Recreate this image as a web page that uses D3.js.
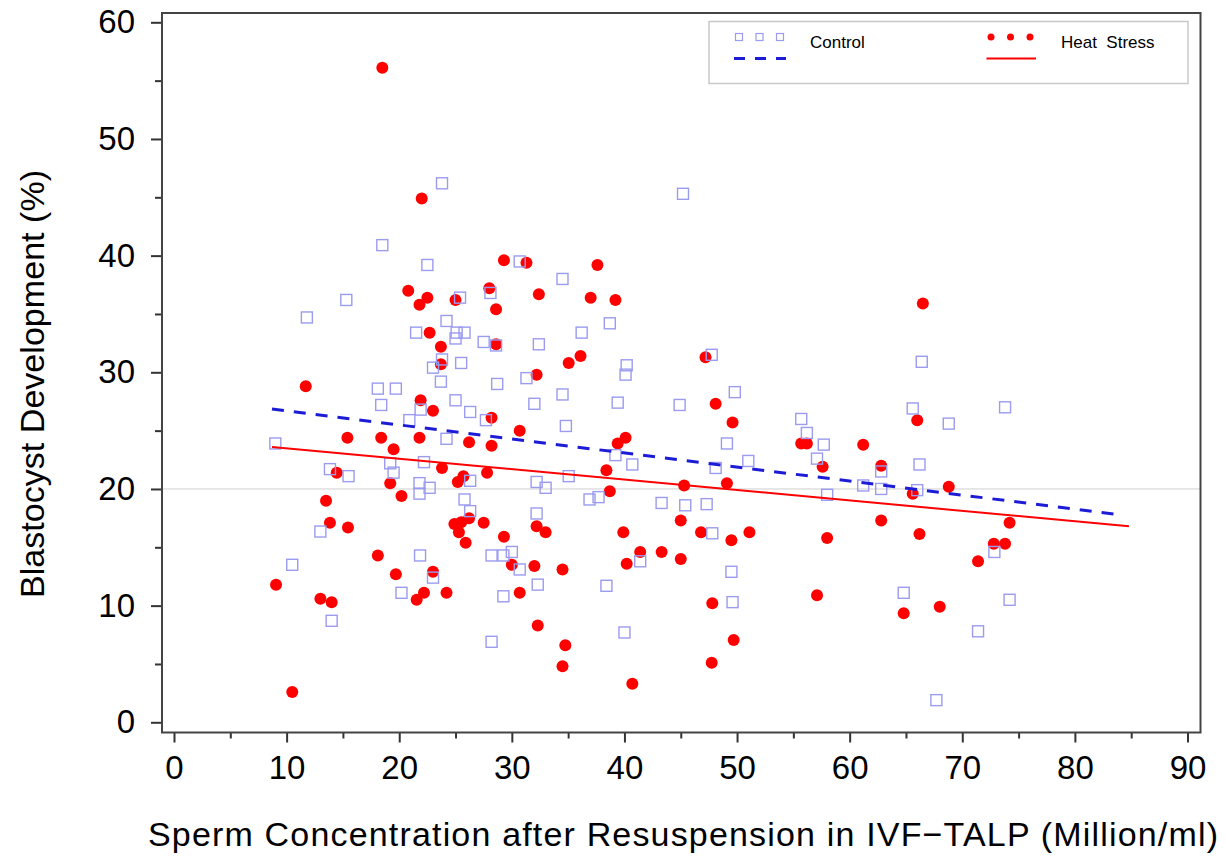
<!DOCTYPE html>
<html>
<head>
<meta charset="utf-8">
<script src="https://cdn.jsdelivr.net/npm/d3@7"></script>
<style>
  body { margin: 0; background: #fff; }
  svg text { font-family: "Liberation Sans", Arial, sans-serif; fill: #000; }
</style>
</head>
<body>
<div id="chart-area"><svg></svg></div>
<script>
const chartSize = { width: 1226, height: 859 };
const frame = { left: 162, right: 1200.5, top: 13, bottom: 732.5 };

const xMajorTicks = [0, 10, 20, 30, 40, 50, 60, 70, 80, 90];
const xMinorTicks = [5, 15, 25, 35, 45, 55, 65, 75, 85];
const yMajorTicks = [0, 10, 20, 30, 40, 50, 60];
const yMinorTicks = [5, 15, 25, 35, 45, 55];

const seriesNames = ["Control", "Heat  Stress"];

// [sperm concentration, blastocyst %]
const controlPoints = [
  [18.5, 40.9], [23.8, 46.2], [45.2, 45.3], [30.7, 39.5], [15.3, 36.2],
  [11.8, 34.7], [21.5, 33.4], [18.1, 28.6], [19.7, 28.6], [18.4, 27.2],
  [20.9, 25.9], [21.9, 26.8], [9.0, 23.9], [19.2, 22.2], [13.85, 21.7],
  [15.5, 21.1], [19.5, 21.4], [21.8, 20.5], [22.5, 39.2], [34.5, 38.0],
  [25.4, 36.4], [28.1, 36.8], [24.2, 34.4], [38.7, 34.2], [25.1, 33.4],
  [25.8, 33.4], [25.0, 32.9], [27.5, 32.6], [28.6, 32.3], [32.4, 32.4],
  [36.2, 33.4], [23.8, 31.1], [23.0, 30.4], [25.5, 30.8], [40.2, 30.6],
  [40.1, 29.8], [31.3, 29.5], [23.7, 29.2], [28.7, 29.0], [34.5, 28.1],
  [39.4, 27.4], [25.0, 27.6], [26.3, 26.6], [32.0, 27.3], [44.9, 27.2],
  [27.7, 25.9], [34.8, 25.4], [24.2, 24.3], [39.2, 22.9], [40.7, 22.1],
  [22.2, 22.3], [26.3, 20.7], [22.7, 20.1], [21.8, 19.6], [32.2, 20.6],
  [33.0, 20.1], [35.05, 21.1], [36.9, 19.1], [37.7, 19.3], [25.8, 19.1],
  [43.3, 18.8], [47.75, 31.5], [66.4, 30.9], [49.8, 28.3], [65.6, 26.9],
  [55.7, 26.0], [56.2, 24.8], [57.7, 23.8], [49.1, 23.9], [51.0, 22.4],
  [48.1, 21.8], [57.1, 22.6], [62.8, 21.5], [66.2, 22.1], [61.2, 20.3],
  [62.8, 20.0], [66.0, 19.9], [58.0, 19.5], [45.4, 18.6], [47.3, 18.7],
  [73.8, 27.0], [68.8, 25.6], [13.0, 16.35], [10.5, 13.5], [14.0, 8.7],
  [20.2, 11.1], [21.85, 14.3], [26.3, 18.1], [32.2, 17.9], [41.4, 13.8],
  [28.2, 14.3], [29.25, 14.3], [30.0, 14.6], [30.7, 13.1], [23.0, 12.4],
  [29.25, 10.8], [32.3, 11.8], [38.4, 11.7], [28.2, 6.9], [40.0, 7.7],
  [47.8, 16.2], [49.5, 12.9], [49.6, 10.3], [64.8, 11.1], [67.7, 1.9],
  [72.85, 14.6], [74.2, 10.5], [71.4, 7.8]
];

const heatPoints = [
  [18.5, 56.1], [22.0, 44.9], [20.8, 37.0], [21.8, 35.8], [11.7, 28.8],
  [21.9, 27.6], [15.4, 24.4], [18.4, 24.4], [19.5, 23.4], [21.8, 24.4],
  [14.45, 21.4], [19.2, 20.5], [13.5, 19.0], [20.2, 19.4], [29.3, 39.6],
  [31.3, 39.4], [37.6, 39.2], [22.5, 36.4], [25.0, 36.2], [28.0, 37.2],
  [28.6, 35.4], [32.4, 36.7], [37.0, 36.4], [39.2, 36.2], [22.7, 33.4],
  [28.6, 32.4], [23.7, 32.2], [36.1, 31.4], [35.05, 30.8], [23.7, 30.7],
  [32.2, 29.8], [23.0, 26.7], [28.2, 26.1], [30.7, 25.0], [26.2, 24.0],
  [28.2, 23.7], [40.1, 24.4], [39.4, 23.9], [23.8, 21.8], [25.7, 21.1],
  [25.2, 20.6], [27.8, 21.4], [38.4, 21.6], [38.7, 19.8], [66.5, 35.9],
  [47.2, 31.3], [48.1, 27.3], [66.0, 25.9], [49.6, 25.7], [55.7, 23.9],
  [56.2, 23.9], [61.2, 23.8], [57.6, 21.9], [62.8, 22.0], [45.3, 20.3],
  [49.1, 20.5], [65.6, 19.6], [68.8, 20.2], [13.85, 17.1], [15.45, 16.7],
  [9.06, 11.8], [13.0, 10.6], [14.0, 10.3], [10.5, 2.6], [18.1, 14.3],
  [19.7, 12.7], [21.55, 10.5], [26.2, 17.5], [24.9, 17.0], [25.5, 17.15],
  [25.3, 16.3], [25.9, 15.4], [27.5, 17.1], [32.2, 16.8], [33.0, 16.3],
  [29.3, 15.9], [45.0, 17.3], [39.9, 16.3], [41.4, 14.6], [43.3, 14.6],
  [40.2, 13.6], [45.0, 14.0], [30.0, 13.5], [32.0, 13.4], [34.5, 13.1],
  [23.0, 12.9], [22.2, 11.1], [24.2, 11.1], [30.7, 11.1], [32.3, 8.3],
  [34.75, 6.6], [34.5, 4.8], [40.7, 3.3], [46.8, 16.3], [49.5, 15.6],
  [51.1, 16.3], [58.0, 15.8], [62.8, 17.3], [66.2, 16.15], [47.8, 10.2],
  [57.1, 10.9], [64.8, 9.35], [68.0, 9.9], [49.7, 7.06], [47.75, 5.1],
  [74.2, 17.1], [72.8, 15.3], [73.8, 15.3], [71.4, 13.8]
];

// fitted regression lines, end points
const controlFit = [[8.7, 26.85], [83.9, 17.8]];
const heatFit = [[8.7, 23.6], [84.8, 16.8]];

const referenceY = 20;

const x = d3.scaleLinear().domain([0, 90]).range([174, 1187.5]);
const y = d3.scaleLinear().domain([0, 60]).range([722.3, 22.3]);

const squareColor = "#9b9bef";
const dotColor = "#ff0000";
const dashColor = "#1c1cd6";

const drawAxes = function(svg) {
  svg
    .append("line")
    .attr("x1", frame.left)
    .attr("x2", frame.right)
    .attr("y1", y(referenceY))
    .attr("y2", y(referenceY))
    .attr("stroke", "#cfcfcf")
    .attr("stroke-width", 1);

  const yAxis = svg.append("g").attr("transform", `translate(${frame.left},0)`);
  yAxis.call(d3.axisLeft(y).tickValues(yMajorTicks).tickSize(11).tickPadding(16));
  yAxis.append("g").call(d3.axisLeft(y).tickValues(yMinorTicks).tickSize(7).tickFormat(""));

  const xAxis = svg.append("g").attr("transform", `translate(0,${frame.bottom})`);
  xAxis.call(d3.axisBottom(x).tickValues(xMajorTicks).tickSize(10).tickPadding(13));
  xAxis.append("g").call(d3.axisBottom(x).tickValues(xMinorTicks).tickSize(6).tickFormat(""));

  svg.selectAll(".domain").remove();
  svg.selectAll(".tick line").attr("stroke", "#333").attr("stroke-width", 2);
  svg
    .selectAll(".tick text")
    .attr("font-size", 33)
    .attr("fill", "#000")
    .attr("font-family", '"Liberation Sans", Arial, sans-serif');

  svg
    .append("rect")
    .attr("x", frame.left)
    .attr("y", frame.top)
    .attr("width", frame.right - frame.left)
    .attr("height", frame.bottom - frame.top)
    .attr("fill", "none")
    .attr("stroke", "#444")
    .attr("stroke-width", 2);

  svg
    .append("text")
    .attr("x", 148)
    .attr("y", 846)
    .attr("font-size", 34)
    .attr("textLength", 1070)
    .attr("lengthAdjust", "spacing")
    .text("Sperm Concentration after Resuspension in IVF\u2212TALP (Million/ml)");

  svg
    .append("text")
    .attr("transform", "rotate(-90)")
    .attr("x", -384)
    .attr("y", 44)
    .attr("text-anchor", "middle")
    .attr("font-size", 34)
    .attr("textLength", 428)
    .attr("lengthAdjust", "spacing")
    .text("Blastocyst Development (%)");
};

const drawPoints = function(svg) {
  svg
    .append("g")
    .selectAll("circle")
    .data(heatPoints)
    .join("circle")
    .attr("cx", d => x(d[0]))
    .attr("cy", d => y(d[1]))
    .attr("r", 6)
    .attr("fill", dotColor);

  svg
    .append("g")
    .selectAll("rect")
    .data(controlPoints)
    .join("rect")
    .attr("x", d => x(d[0]) - 5.5)
    .attr("y", d => y(d[1]) - 5.5)
    .attr("width", 11)
    .attr("height", 11)
    .attr("fill", "none")
    .attr("stroke", squareColor)
    .attr("stroke-width", 1.4);
};

const drawFits = function(svg) {
  const line = d3
    .line()
    .x(d => x(d[0]))
    .y(d => y(d[1]));

  svg
    .append("path")
    .attr("d", line(heatFit))
    .attr("fill", "none")
    .attr("stroke", dotColor)
    .attr("stroke-width", 2);

  svg
    .append("path")
    .attr("d", line(controlFit))
    .attr("fill", "none")
    .attr("stroke", dashColor)
    .attr("stroke-width", 3)
    .attr("stroke-dasharray", "12,10");
};

const drawLegend = function(svg) {
  const legend = svg.append("g");
  legend
    .append("rect")
    .attr("x", 709)
    .attr("y", 21.5)
    .attr("width", 479)
    .attr("height", 62)
    .attr("fill", "#fff")
    .attr("stroke", "#c8c8c8")
    .attr("stroke-width", 1.5);

  const items = [
    { name: seriesNames[0], x0: 739, textX: 810 },
    { name: seriesNames[1], x0: 991, textX: 1061 }
  ];

  items.forEach((item, i) => {
    const g = legend.append("g");
    [0, 1, 2].forEach(k => {
      if (i === 0) {
        g.append("rect")
          .attr("x", item.x0 + k * 20.5 - 3.5)
          .attr("y", 33.5)
          .attr("width", 7)
          .attr("height", 7)
          .attr("fill", "none")
          .attr("stroke", squareColor)
          .attr("stroke-width", 1.2);
      } else {
        g.append("circle")
          .attr("cx", item.x0 + k * 19.5)
          .attr("cy", 37)
          .attr("r", 3.5)
          .attr("fill", dotColor);
      }
    });
    g.append("line")
      .attr("x1", i === 0 ? 734 : 986.5)
      .attr("x2", i === 0 ? 786 : 1036)
      .attr("y1", 58.5)
      .attr("y2", 58.5)
      .attr("stroke", i === 0 ? dashColor : dotColor)
      .attr("stroke-width", i === 0 ? 3 : 2)
      .attr("stroke-dasharray", i === 0 ? "11,10" : null);
    g.append("text")
      .attr("x", item.textX)
      .attr("y", 47.5)
      .attr("font-size", 17)
      .attr("xml:space", "preserve")
      .text(item.name);
  });
};

const main = function() {
  const svg = d3
    .select("#chart-area svg")
    .attr("width", chartSize.width)
    .attr("height", chartSize.height);

  drawAxes(svg);
  drawPoints(svg);
  drawFits(svg);
  drawLegend(svg);
};

window.onload = main;
</script>
</body>
</html>
